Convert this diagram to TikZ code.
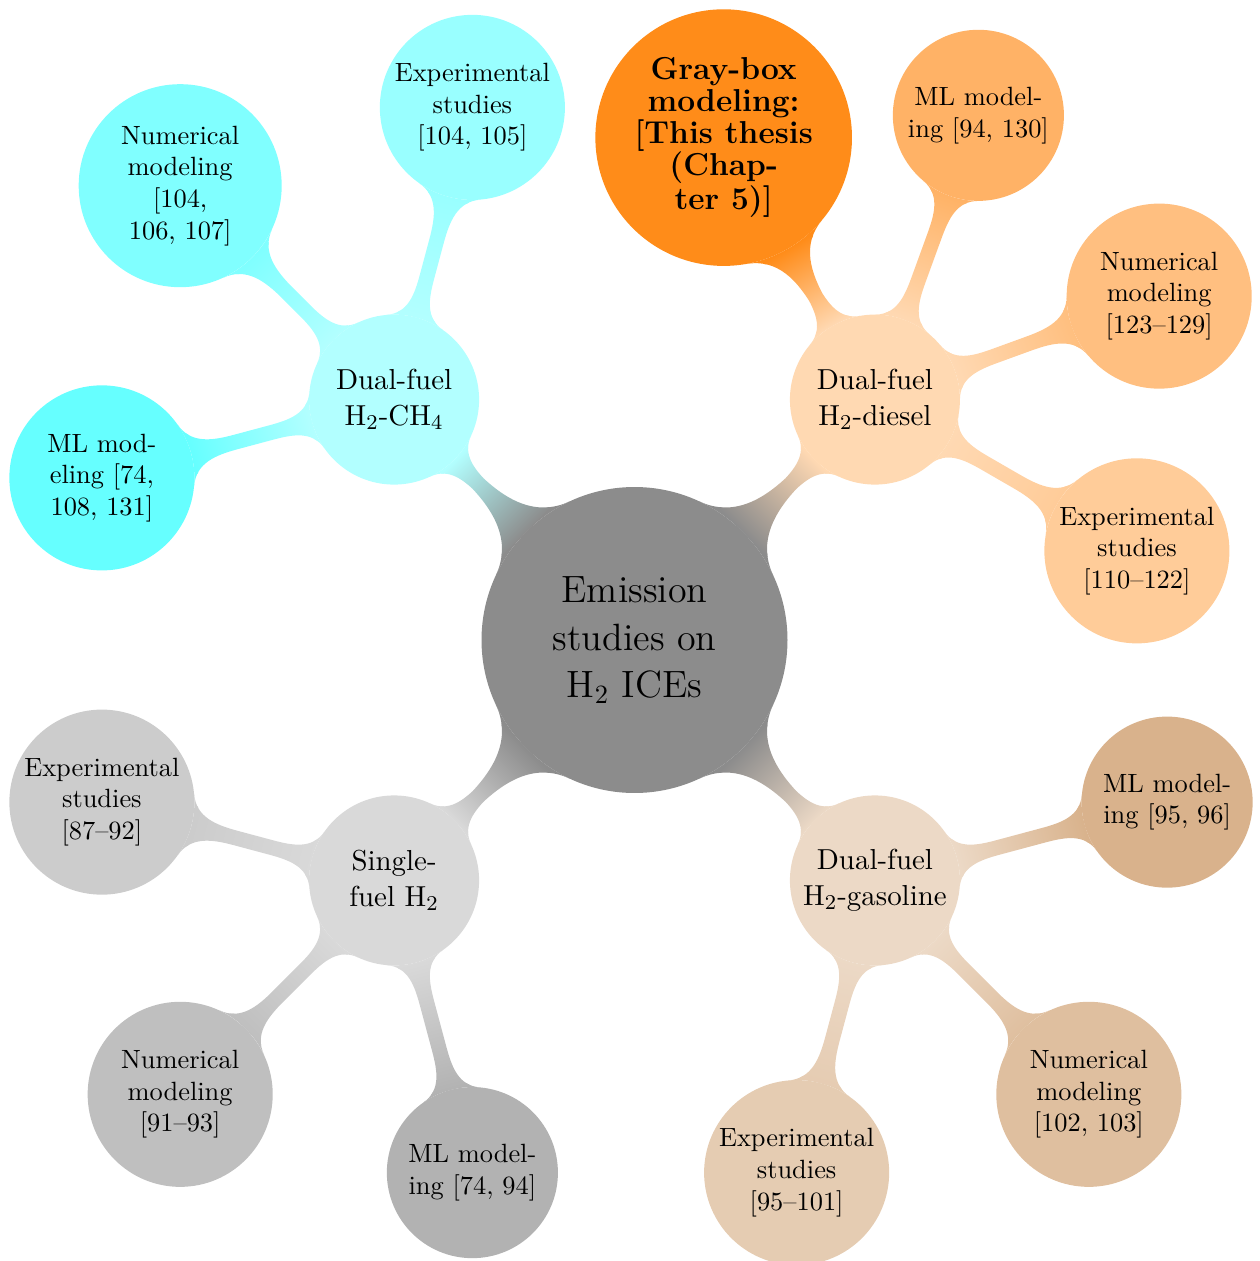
\documentclass[tikz,border=0pt]{standalone}
\usetikzlibrary{mindmap,calc,backgrounds}
% pure RGB cyan, so that tints stay light turquoise
\definecolor{aqua}{RGB}{0,255,255}
\begin{document}
\begin{tikzpicture}[x=0.37879pt,y=0.37879pt,
  every node/.style={circle, inner sep=0pt, outer sep=0pt, align=center, text=black},
  rootc/.style={fill=gray!90, minimum size=115.9pt, font=\fontsize{14.4}{18}\selectfont},
  lone/.style={minimum size=64.4pt, font=\fontsize{10.95}{13.6}\selectfont},
  ltwo/.style={font=\fontsize{10}{12}\selectfont},
  twol/.style={ltwo, minimum size=64.8pt},
  threel/.style={ltwo, minimum size=70.1pt},
  fourl/.style={ltwo, minimum size=76.9pt},
  thesis/.style={minimum size=97.2pt, font=\fontsize{12}{12}\selectfont\bfseries},
  link/.style args={#1/#2}{circle connection bar switch color=from (#1) to (#2)},
]
\useasboundingbox (0,0) rectangle (1259,-1261);

% centre
\node[rootc] (root) at (634.5,-640) {Emission\\studies on\\H$_2$ ICEs};

% first ring
\node[lone, fill=aqua!30]   (ch4)    at ($(root)+(135:340)$) {Dual-fuel\\H$_2$-CH$_4$};
\node[lone, fill=orange!30] (diesel) at ($(root)+(45:340)$)  {Dual-fuel\\H$_2$-diesel};
\node[lone, fill=gray!30]   (single) at ($(root)+(225:340)$) {Single-\\fuel H$_2$};
\node[lone, fill=brown!30]  (gaso)   at ($(root)+(315:340)$) {Dual-fuel\\H$_2$-gasoline};

% H2-CH4 branch
\node[threel, fill=aqua!40] (ch4exp) at ($(ch4)+(75:302.5)$)  {Experimental\\studies\\{}[104, 105]};
\node[fourl,  fill=aqua!50] (ch4num) at ($(ch4)+(135:302.5)$) {Numerical\\modeling\\{}[104,\\106, 107]};
\node[threel, fill=aqua!60] (ch4ml)  at ($(ch4)+(195:302.5)$) {ML mod-\\eling [74,\\108, 131]};

% H2-diesel branch
\node[threel, fill=orange!40] (dslexp) at ($(diesel)+(-30:302.5)$) {Experimental\\studies\\{}[110--122]};
\node[threel, fill=orange!50] (dslnum) at ($(diesel)+(20:302.5)$)  {Numerical\\modeling\\{}[123--129]};
\node[twol,   fill=orange!60] (dslml)  at ($(diesel)+(70:302.5)$)  {ML model-\\ing [94, 130]};
\node[thesis, fill=orange!90] (gray)   at ($(diesel)+(120:302.5)$) {Gray-box\\modeling:\\{}[This thesis\\(Chap-\\ter 5)]};

% single-fuel branch
\node[threel, fill=gray!40] (sglexp) at ($(single)+(165:302.5)$) {Experimental\\studies\\{}[87--92]};
\node[threel, fill=gray!50] (sglnum) at ($(single)+(225:302.5)$) {Numerical\\modeling\\{}[91--93]};
\node[twol,   fill=gray!60] (sglml)  at ($(single)+(285:302.5)$) {ML model-\\ing [74, 94]};

% H2-gasoline branch
\node[threel, fill=brown!40] (gasexp) at ($(gaso)+(255:302.5)$) {Experimental\\studies\\{}[95--101]};
\node[threel, fill=brown!50] (gasnum) at ($(gaso)+(315:302.5)$) {Numerical\\modeling\\{}[102, 103]};
\node[twol,   fill=brown!60] (gasml)  at ($(gaso)+(15:302.5)$)  {ML model-\\ing [95, 96]};

\begin{scope}[on background layer]
  \path (root) to[link=gray!90/aqua!30]   (ch4);
  \path (root) to[link=gray!90/orange!30] (diesel);
  \path (root) to[link=gray!90/gray!30]   (single);
  \path (root) to[link=gray!90/brown!30]  (gaso);

  \path (ch4) to[link=aqua!30/aqua!40] (ch4exp);
  \path (ch4) to[link=aqua!30/aqua!50] (ch4num);
  \path (ch4) to[link=aqua!30/aqua!60] (ch4ml);

  \path (diesel) to[link=orange!30/orange!40] (dslexp);
  \path (diesel) to[link=orange!30/orange!50] (dslnum);
  \path (diesel) to[link=orange!30/orange!60] (dslml);
  \path (diesel) to[link=orange!30/orange!90] (gray);

  \path (single) to[link=gray!30/gray!40] (sglexp);
  \path (single) to[link=gray!30/gray!50] (sglnum);
  \path (single) to[link=gray!30/gray!60] (sglml);

  \path (gaso) to[link=brown!30/brown!40] (gasexp);
  \path (gaso) to[link=brown!30/brown!50] (gasnum);
  \path (gaso) to[link=brown!30/brown!60] (gasml);
\end{scope}
\end{tikzpicture}
\end{document}
